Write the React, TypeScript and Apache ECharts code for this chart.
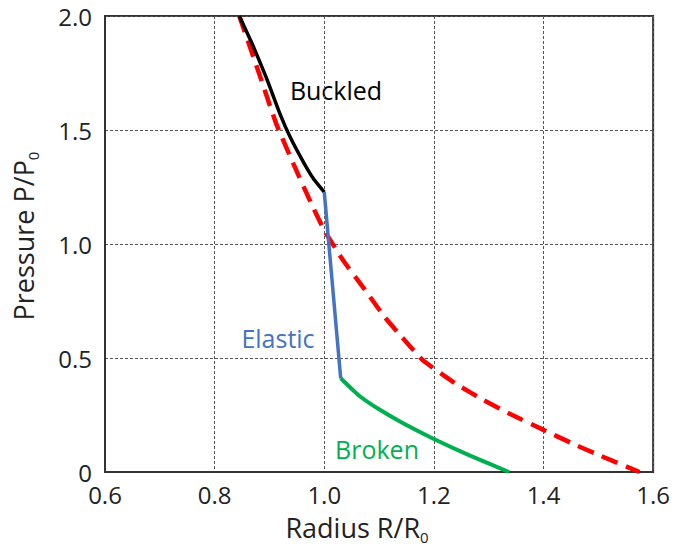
import React, { useEffect, useRef } from "react";
import * as echarts from "echarts";

const xTicks = [0.6, 0.8, 1.0, 1.2, 1.4, 1.6];
const yTicks = [0, 0.5, 1.0, 1.5, 2.0];

const buckledX = [0.845, 0.87, 0.895, 0.919, 0.938, 0.963, 0.981, 1.0];
const buckledY = [2.0, 1.87, 1.725, 1.572, 1.468, 1.355, 1.284, 1.228];

const elasticX = [1.0, 1.03];
const elasticY = [1.228, 0.411];

const brokenX = [1.03, 1.062, 1.1, 1.143, 1.2, 1.266, 1.337];
const brokenY = [0.411, 0.338, 0.275, 0.215, 0.145, 0.072, 0.0];

const theoryX = [0.845, 0.878, 0.912, 0.944, 0.972, 1.0, 1.034, 1.074, 1.11, 1.146, 1.18, 1.242, 1.291, 1.343, 1.398, 1.45, 1.505, 1.575];
const theoryY = [2.0, 1.77, 1.53, 1.35, 1.2, 1.06, 0.93, 0.8, 0.68, 0.58, 0.49, 0.384, 0.315, 0.25, 0.187, 0.128, 0.07, 0.0];

const zip = (xs: number[], ys: number[]) => xs.map((x, i) => [x, ys[i]]);

const FONT = "'Open Sans', sans-serif";

export default function App() {
  const ref = useRef<HTMLDivElement>(null);
  useEffect(() => {
    if (!ref.current) return;
    const chart = echarts.init(ref.current, undefined, { renderer: "svg" });
    const gridLine = { show: true, lineStyle: { color: "#555", width: 1, type: [3, 2] as any } };
    const titleRich = {
      a: { fontSize: 27, fontFamily: FONT, fill: "#222", lineHeight: 32, verticalAlign: "top" },
      s: { fontSize: 15, fontFamily: FONT, fill: "#222", lineHeight: 16, verticalAlign: "top", padding: [15, 0, 0, 0] },
    };
    chart.setOption({
      animation: false,
      backgroundColor: "#fff",
      textStyle: { fontFamily: FONT },
      grid: {
        left: 105,
        right: 19,
        top: 16,
        bottom: 78,
        show: true,
        borderColor: "#333",
        borderWidth: 2,
        backgroundColor: "transparent",
      },
      xAxis: {
        type: "value",
        min: xTicks[0],
        max: xTicks[xTicks.length - 1],
        interval: 0.2,
        axisLine: { show: true, lineStyle: { color: "#333", width: 2 } },
        axisTick: { show: false },
        splitLine: gridLine,
        axisLabel: {
          color: "#222",
          fontSize: 24,
          fontFamily: FONT,
          margin: 10,
          formatter: (v: number) => v.toFixed(1),
        },
      },
      yAxis: {
        type: "value",
        min: yTicks[0],
        max: yTicks[yTicks.length - 1],
        interval: 0.5,
        axisLine: { show: true, lineStyle: { color: "#333", width: 2 } },
        axisTick: { show: false },
        splitLine: gridLine,
        axisLabel: {
          color: "#222",
          fontSize: 24,
          fontFamily: FONT,
          margin: 13,
          formatter: (v: number) => (v === 0 ? "0" : v.toFixed(1)),
        },
      },
      series: [
        {
          type: "line",
          name: "Theory",
          data: zip(theoryX, theoryY),
          smooth: 0.15,
          showSymbol: false,
          lineStyle: { color: "#ff0000", width: 4.5, type: [17, 9] as any, cap: "butt" },
          z: 2,
        },
        {
          type: "line",
          name: "Buckled",
          data: zip(buckledX, buckledY),
          smooth: 0.15,
          showSymbol: false,
          lineStyle: { color: "#000000", width: 3.5 },
          z: 3,
        },
        {
          type: "line",
          name: "Elastic",
          data: zip(elasticX, elasticY),
          showSymbol: false,
          lineStyle: { color: "#4472c4", width: 3.5 },
          z: 3,
        },
        {
          type: "line",
          name: "Broken",
          data: zip(brokenX, brokenY),
          smooth: 0.15,
          showSymbol: false,
          lineStyle: { color: "#00b050", width: 4 },
          z: 3,
        },
      ],
      graphic: [
        {
          type: "text",
          x: 336,
          y: 90,
          style: { text: "Buckled", fill: "#000", font: `25px ${FONT}`, align: "center", verticalAlign: "middle" },
        },
        {
          type: "text",
          x: 278,
          y: 338,
          style: { text: "Elastic", fill: "#4472c4", font: `25px ${FONT}`, align: "center", verticalAlign: "middle" },
        },
        {
          type: "text",
          x: 377,
          y: 449,
          style: { text: "Broken", fill: "#00b050", font: `25px ${FONT}`, align: "center", verticalAlign: "middle" },
        },
        {
          type: "text",
          x: 357,
          y: 530,
          style: {
            text: "{a|Radius R/R}{s|0}",
            align: "center",
            verticalAlign: "middle",
            rich: titleRich,
          } as any,
        },
        {
          type: "text",
          x: 26,
          y: 236,
          rotation: Math.PI / 2,
          style: {
            text: "{a|Pressure P/P}{s|0}",
            align: "center",
            verticalAlign: "middle",
            rich: titleRich,
          } as any,
        },
      ],
    });
    return () => chart.dispose();
  }, []);
  return <div ref={ref} style={{ width: 673, height: 550, position: "absolute", left: 0, top: 0 }} />;
}
